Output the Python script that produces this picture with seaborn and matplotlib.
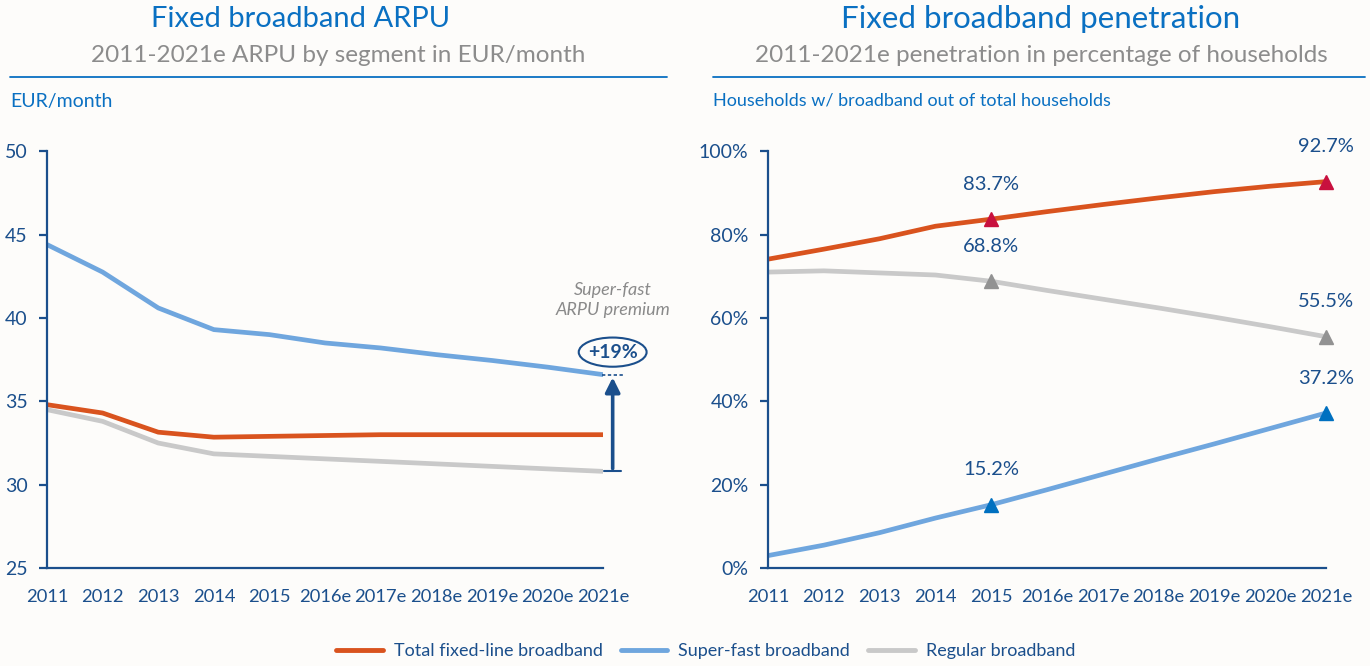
import numpy as np
import pandas as pd
import matplotlib.pyplot as plt
import seaborn as sns
from matplotlib.patches import Ellipse

years = ['2011', '2012', '2013', '2014', '2015', '2016e', '2017e', '2018e', '2019e', '2020e', '2021e']
series = ['Total fixed-line broadband', 'Super-fast broadband', 'Regular broadband']

# ARPU, EUR/month
arpu_total = [34.8, 34.3, 33.15, 32.85, 32.9, 32.95, 33.0, 33.0, 33.0, 33.0, 33.0]
arpu_superfast = [44.4, 42.75, 40.6, 39.3, 39.0, 38.5, 38.2, 37.8, 37.45, 37.05, 36.6]
arpu_regular = [34.5, 33.8, 32.5, 31.85, 31.7, 31.55, 31.4, 31.25, 31.1, 30.95, 30.8]

# penetration, % of households
pen_total = [74.1, 76.5, 79.0, 82.0, 83.7, 85.5, 87.2, 88.8, 90.3, 91.6, 92.7]
pen_superfast = [3.0, 5.5, 8.5, 12.0, 15.2, 18.8, 22.5, 26.2, 29.8, 33.5, 37.2]
pen_regular = [71.0, 71.3, 70.8, 70.3, 68.8, 66.6, 64.5, 62.4, 60.2, 57.9, 55.5]

marked_years = ['2015', '2021e']
premium_label = '+19%'

line_colors = ['#d9531e', '#6fa6de', '#c9c9c9']
marker_colors = ['#c8103e', '#0070c0', '#929292']
dark_blue = '#1b4f8c'
title_blue = '#0a70c2'
bg = '#fdfcfa'

sns.set_theme(style='white')
plt.rcParams['font.family'] = ['Lato', 'DejaVu Sans']

arpu_df = pd.DataFrame({'year': years * 3,
                        'value': arpu_total + arpu_superfast + arpu_regular,
                        'segment': np.repeat(series, len(years))})
pen_df = pd.DataFrame({'year': years * 3,
                       'value': pen_total + pen_superfast + pen_regular,
                       'segment': np.repeat(series, len(years))})

fig = plt.figure(figsize=(13.7, 6.66), dpi=100, facecolor=bg)
ax1 = fig.add_axes([0.0343, 0.147, 0.406, 0.626], facecolor=bg)
ax2 = fig.add_axes([0.5606, 0.147, 0.4073, 0.626], facecolor=bg)

palette = dict(zip(series, line_colors))
sns.lineplot(data=arpu_df, x='year', y='value', hue='segment', palette=palette,
             linewidth=3.4, ax=ax1, legend=False, sort=False)
sns.lineplot(data=pen_df, x='year', y='value', hue='segment', palette=palette,
             linewidth=3.4, ax=ax2, legend=True, sort=False)

for ax in (ax1, ax2):
    ax.set_xlim(0, len(years) - 1)
    ax.set_xlabel('')
    ax.set_ylabel('')
    for s in ('top', 'right'):
        ax.spines[s].set_visible(False)
    for s in ('left', 'bottom'):
        ax.spines[s].set_color(dark_blue)
        ax.spines[s].set_linewidth(1.6)
    ax.tick_params(axis='y', left=True, length=6, width=1.6, color=dark_blue,
                   labelcolor=dark_blue, labelsize=14, pad=8)
    ax.tick_params(axis='x', bottom=False, labelcolor=dark_blue, labelsize=13.2, pad=9)

ax1.set_ylim(25, 50)
ax1.set_yticks([25, 30, 35, 40, 45, 50])
ax2.set_ylim(0, 100)
ax2.set_yticks([0, 20, 40, 60, 80, 100])
ax2.set_yticklabels([f'{v}%' for v in [0, 20, 40, 60, 80, 100]])

# markers and labels on penetration chart
pen_vals = [pen_total, pen_superfast, pen_regular]
for vals, mc in zip(pen_vals, marker_colors):
    for yr in marked_years:
        i = years.index(yr)
        ax2.plot(i, vals[i], marker='^', markersize=10.5, color=mc, zorder=5, clip_on=False)
        ax2.text(i, vals[i] + 6.3, f'{vals[i]:.1f}%', ha='center', va='bottom',
                 color=dark_blue, fontsize=14.5)

# premium arrow on ARPU chart
xa = len(years) - 1 + 0.17
y_top = arpu_superfast[-1]
y_bot = arpu_regular[-1]
ax1.annotate('', xy=(xa, y_top), xytext=(xa, y_bot),
             arrowprops=dict(arrowstyle='-|>', color=dark_blue, lw=2.6, mutation_scale=22),
             annotation_clip=False)
ax1.plot([xa - 0.15, xa + 0.15], [y_bot, y_bot], color=dark_blue, lw=1.5, clip_on=False)
ax1.plot([xa - 0.2, xa + 0.2], [y_top, y_top], color=dark_blue, lw=1.2, ls=(0, (2, 1.5)), clip_on=False)
ax1.add_patch(Ellipse((xa, y_top + 1.35), 1.22, 1.75, fill=False, edgecolor=dark_blue, lw=1.5, clip_on=False))
ax1.text(xa, y_top + 1.35, premium_label, ha='center', va='center', color=dark_blue,
         fontsize=14, fontweight='bold')
ax1.text(xa, y_top + 4.45, 'Super-fast\nARPU premium', ha='center', va='center',
         color='#8a8a8a', fontsize=13, fontstyle='italic', linespacing=1.3)

# titles and header rules
fig.text(301 / 1370, 1 - 19 / 666, 'Fixed broadband ARPU', ha='center', va='center',
         color=title_blue, fontsize=21)
fig.text(338 / 1370, 1 - 56 / 666, '2011-2021e ARPU by segment in EUR/month', ha='center',
         va='center', color='#8c8c8c', fontsize=17.5)
fig.text(1041 / 1370, 1 - 19 / 666, 'Fixed broadband penetration', ha='center', va='center',
         color=title_blue, fontsize=22.5)
fig.text(1041 / 1370, 1 - 56 / 666, '2011-2021e penetration in percentage of households',
         ha='center', va='center', color='#8c8c8c', fontsize=17.5)
fig.add_artist(plt.Line2D([10 / 1370, 667 / 1370], [1 - 77 / 666] * 2, color=title_blue, lw=1.3))
fig.add_artist(plt.Line2D([713 / 1370, 1365 / 1370], [1 - 77 / 666] * 2, color=title_blue, lw=1.3))
fig.text(10 / 1370, 1 - 101 / 666, 'EUR/month', ha='left', va='center', color=title_blue, fontsize=14)
fig.text(713 / 1370, 1 - 101 / 666, 'Households w/ broadband out of total households', ha='left',
         va='center', color=title_blue, fontsize=13)

# shared legend
handles, labels = ax2.get_legend_handles_labels()
ax2.get_legend().remove()
leg = fig.legend(handles, labels, loc='center', bbox_to_anchor=(0.515, 1 - 651 / 666), ncol=3,
                 frameon=False, fontsize=13, handlelength=2.6, columnspacing=1.0, handletextpad=0.6)
for t in leg.get_texts():
    t.set_color(dark_blue)
for h in leg.get_lines():
    h.set_linewidth(3.5)

fig.savefig('out.png', dpi=100, facecolor=bg)
